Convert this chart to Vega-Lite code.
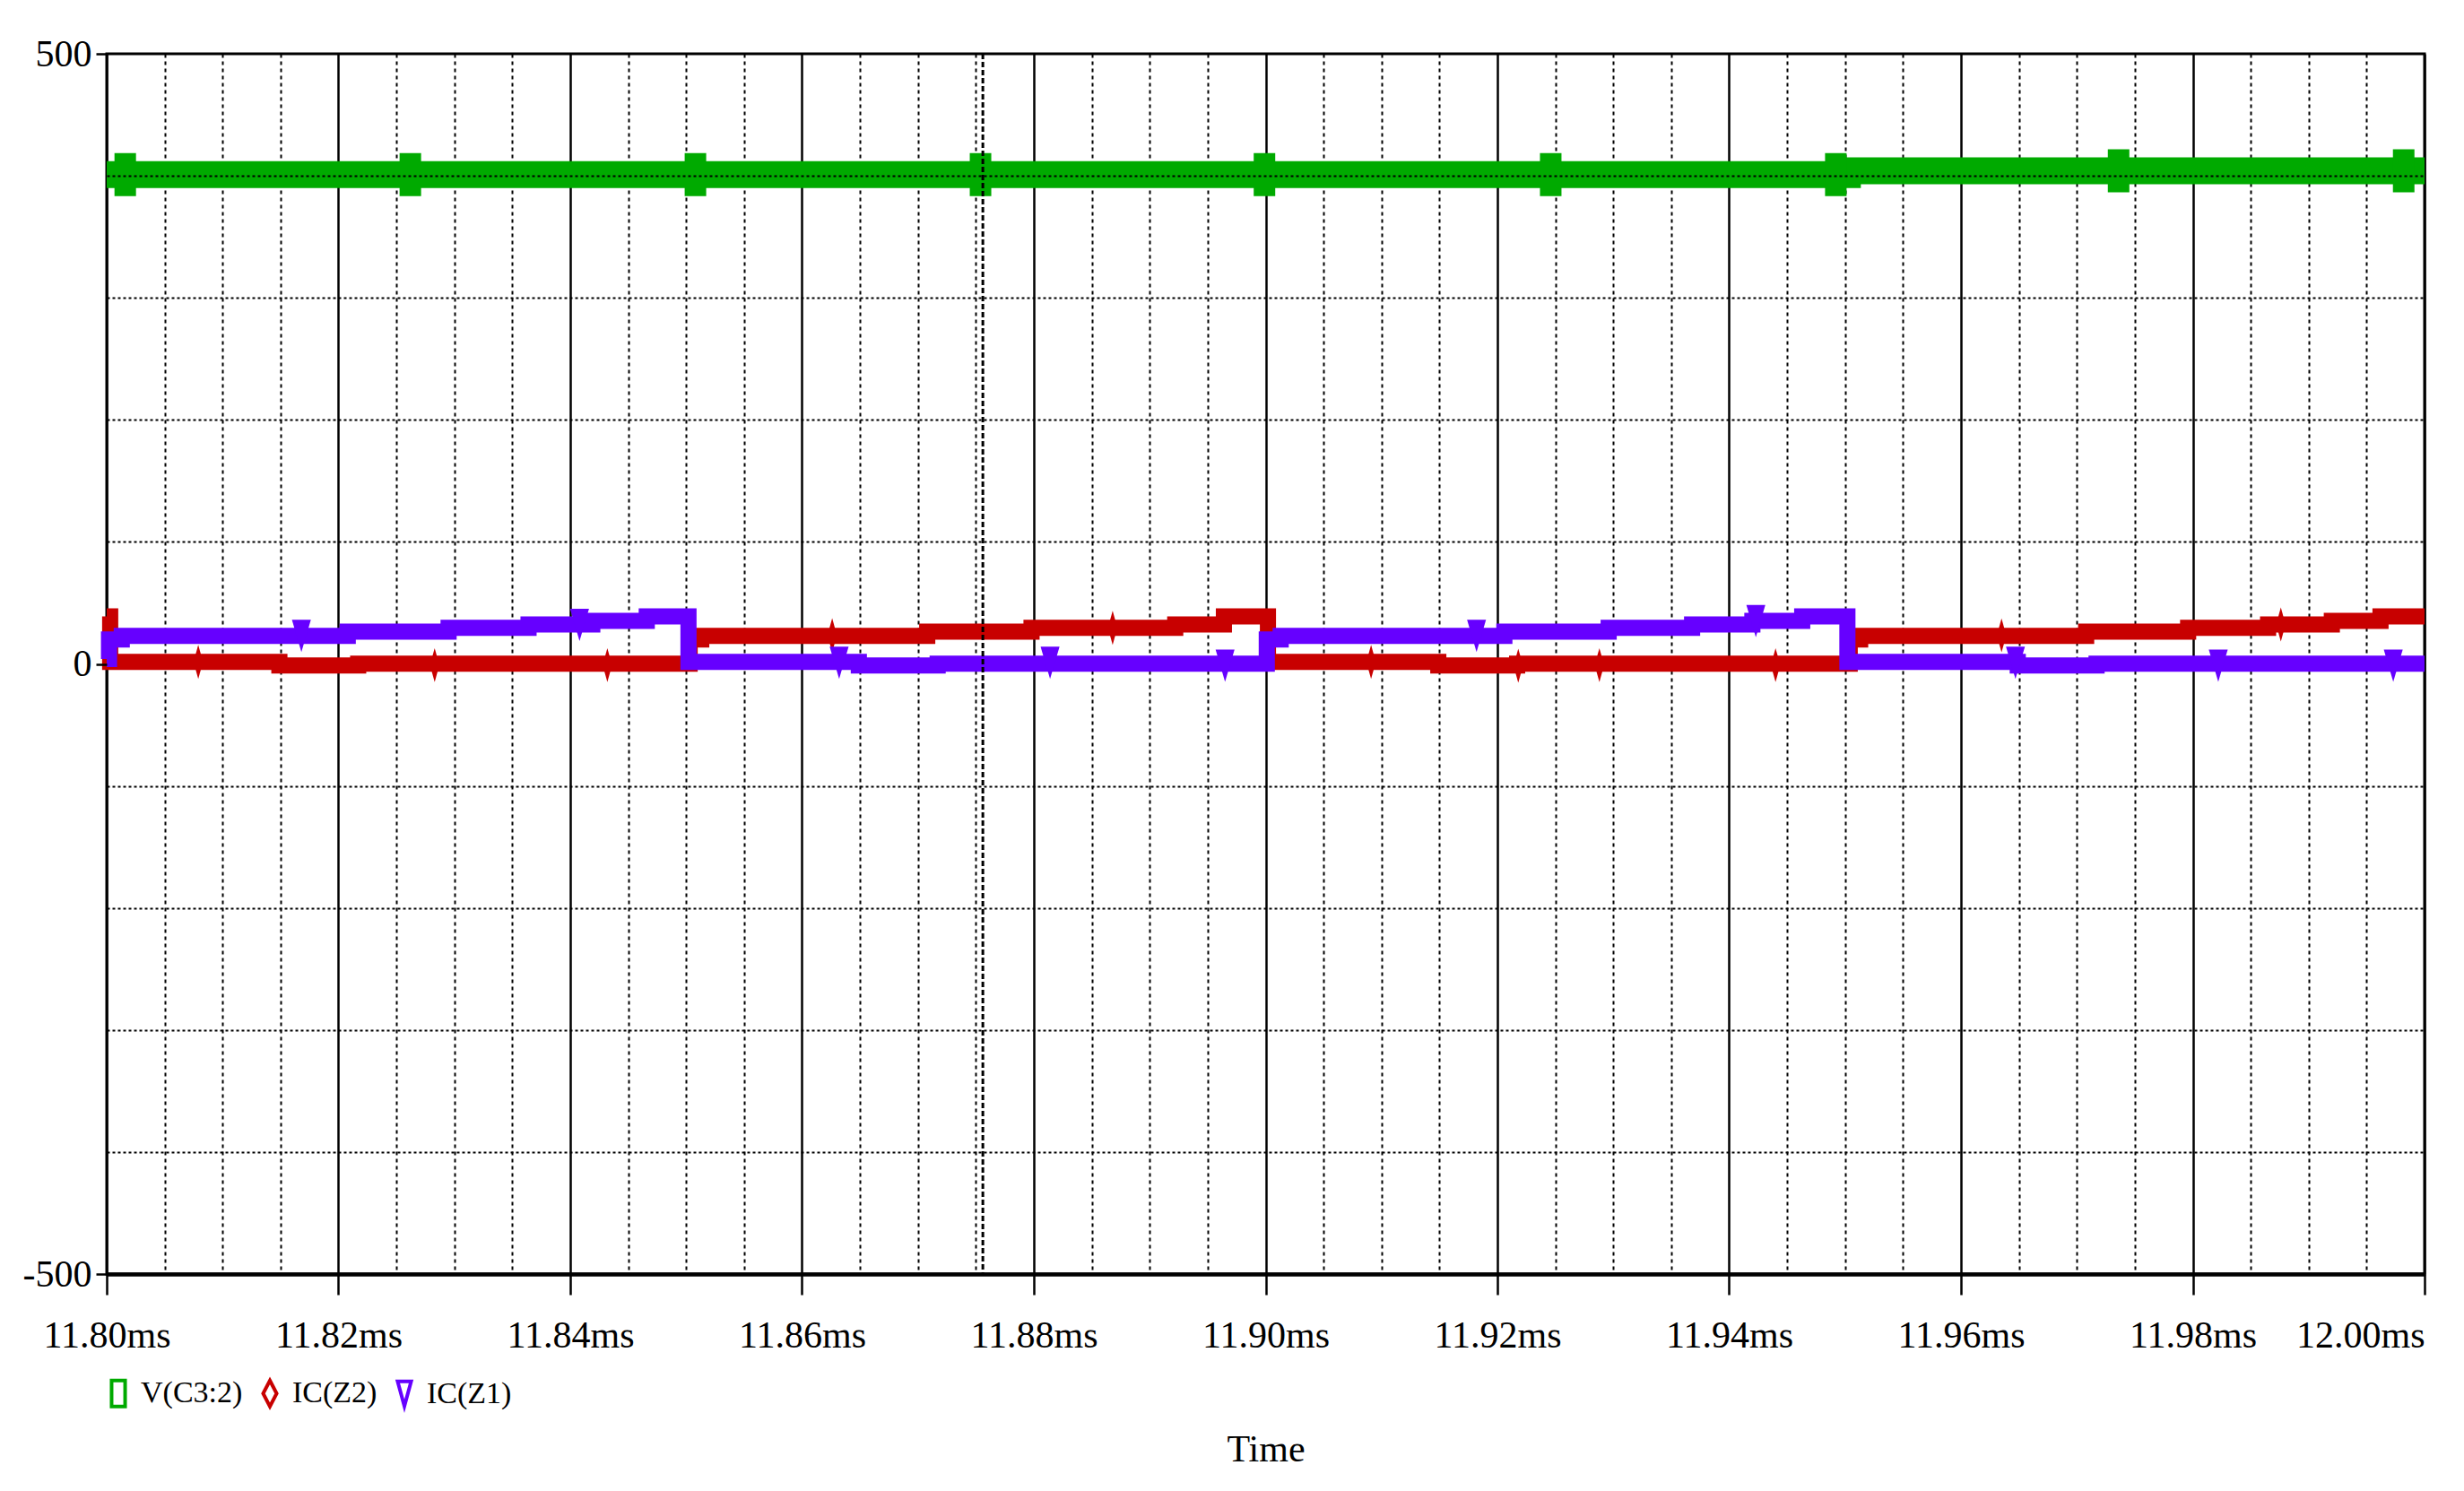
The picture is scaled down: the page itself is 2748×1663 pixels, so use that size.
{
  "$schema": "https://vega.github.io/schema/vega-lite/v6.json",
  "width": 2585,
  "height": 1361,
  "autosize": "none",
  "padding": {"left": 119, "top": 60, "right": 44, "bottom": 242},
  "background": "white",
  "config": {"view": {"stroke": "black", "strokeWidth": 3}, "font": "Liberation Serif"},
  "datasets": {
    "traces": [
      {"series": "V(C3:2)", "t": 11.8, "v": 401},
      {"series": "V(C3:2)", "t": 11.9502, "v": 404.2},
      {"series": "V(C3:2)", "t": 12.0, "v": 404.2},
      {"series": "IC(Z2)", "t": 11.8, "v": 39},
      {"series": "IC(Z2)", "t": 11.8003, "v": 1.6},
      {"series": "IC(Z2)", "t": 11.8149, "v": -1.3},
      {"series": "IC(Z2)", "t": 11.8217, "v": 0.2},
      {"series": "IC(Z2)", "t": 11.8503, "v": 20},
      {"series": "IC(Z2)", "t": 11.8513, "v": 23},
      {"series": "IC(Z2)", "t": 11.8708, "v": 26.5},
      {"series": "IC(Z2)", "t": 11.8798, "v": 29.5},
      {"series": "IC(Z2)", "t": 11.8922, "v": 32.4},
      {"series": "IC(Z2)", "t": 11.8964, "v": 38.9},
      {"series": "IC(Z2)", "t": 11.9002, "v": 1.6},
      {"series": "IC(Z2)", "t": 11.9149, "v": -1.3},
      {"series": "IC(Z2)", "t": 11.9217, "v": 0.2},
      {"series": "IC(Z2)", "t": 11.9504, "v": 20},
      {"series": "IC(Z2)", "t": 11.9513, "v": 23},
      {"series": "IC(Z2)", "t": 11.9708, "v": 26.5},
      {"series": "IC(Z2)", "t": 11.9796, "v": 29.5},
      {"series": "IC(Z2)", "t": 11.9865, "v": 32.4},
      {"series": "IC(Z2)", "t": 11.992, "v": 35.3},
      {"series": "IC(Z2)", "t": 11.9962, "v": 38.9},
      {"series": "IC(Z2)", "t": 12.0, "v": 38.9},
      {"series": "IC(Z1)", "t": 11.8, "v": 4},
      {"series": "IC(Z1)", "t": 11.8002, "v": 20},
      {"series": "IC(Z1)", "t": 11.8013, "v": 23},
      {"series": "IC(Z1)", "t": 11.8208, "v": 26.4},
      {"series": "IC(Z1)", "t": 11.8295, "v": 29.5},
      {"series": "IC(Z1)", "t": 11.8364, "v": 32.4},
      {"series": "IC(Z1)", "t": 11.8419, "v": 35.3},
      {"series": "IC(Z1)", "t": 11.8466, "v": 38.9},
      {"series": "IC(Z1)", "t": 11.8502, "v": 1.6},
      {"series": "IC(Z1)", "t": 11.8649, "v": -1.3},
      {"series": "IC(Z1)", "t": 11.8717, "v": 0.2},
      {"series": "IC(Z1)", "t": 11.9001, "v": 20},
      {"series": "IC(Z1)", "t": 11.9013, "v": 23},
      {"series": "IC(Z1)", "t": 11.9206, "v": 26.5},
      {"series": "IC(Z1)", "t": 11.9296, "v": 29.5},
      {"series": "IC(Z1)", "t": 11.9368, "v": 32.4},
      {"series": "IC(Z1)", "t": 11.942, "v": 35.3},
      {"series": "IC(Z1)", "t": 11.9463, "v": 38.9},
      {"series": "IC(Z1)", "t": 11.9502, "v": 1.6},
      {"series": "IC(Z1)", "t": 11.9649, "v": -1.3},
      {"series": "IC(Z1)", "t": 11.9717, "v": 0.2},
      {"series": "IC(Z1)", "t": 12.0, "v": 0.2}
    ],
    "markers": [
      {"series": "V(C3:2)", "t": 11.8016, "v": 401},
      {"series": "V(C3:2)", "t": 11.8262, "v": 401},
      {"series": "V(C3:2)", "t": 11.8508, "v": 401},
      {"series": "V(C3:2)", "t": 11.8754, "v": 401},
      {"series": "V(C3:2)", "t": 11.8999, "v": 401},
      {"series": "V(C3:2)", "t": 11.9246, "v": 401},
      {"series": "V(C3:2)", "t": 11.9492, "v": 401},
      {"series": "V(C3:2)", "t": 11.9736, "v": 404.2},
      {"series": "V(C3:2)", "t": 11.9982, "v": 404.2},
      {"series": "IC(Z2)", "t": 11.8079, "v": 1.6},
      {"series": "IC(Z2)", "t": 11.8283, "v": -1},
      {"series": "IC(Z2)", "t": 11.8432, "v": -1},
      {"series": "IC(Z2)", "t": 11.8626, "v": 23.5},
      {"series": "IC(Z2)", "t": 11.8868, "v": 29.6},
      {"series": "IC(Z2)", "t": 11.9091, "v": 1.6},
      {"series": "IC(Z2)", "t": 11.9218, "v": -1.5},
      {"series": "IC(Z2)", "t": 11.9288, "v": -1},
      {"series": "IC(Z2)", "t": 11.944, "v": -1},
      {"series": "IC(Z2)", "t": 11.9635, "v": 23.4},
      {"series": "IC(Z2)", "t": 11.9876, "v": 32.3},
      {"series": "IC(Z1)", "t": 11.8168, "v": 23},
      {"series": "IC(Z1)", "t": 11.8408, "v": 32},
      {"series": "IC(Z1)", "t": 11.8632, "v": 1},
      {"series": "IC(Z1)", "t": 11.8814, "v": 1},
      {"series": "IC(Z1)", "t": 11.8965, "v": -1.5},
      {"series": "IC(Z1)", "t": 11.9182, "v": 23},
      {"series": "IC(Z1)", "t": 11.9423, "v": 35},
      {"series": "IC(Z1)", "t": 11.9647, "v": 1},
      {"series": "IC(Z1)", "t": 11.9822, "v": -1.5},
      {"series": "IC(Z1)", "t": 11.9973, "v": -1.5}
    ],
    "cursor": [{"t": 11.8756}]
  },
  "layer": [
    {
      "data": {"name": "traces"},
      "transform": [{"filter": "datum.series == 'V(C3:2)'"}],
      "mark": {"type": "line", "interpolate": "step-after", "color": "#00AA00", "strokeWidth": 30, "strokeJoin": "miter"},
      "encoding": {
        "x": {
          "field": "t", "type": "quantitative",
          "scale": {"domain": [11.8, 12.0], "nice": false, "zero": false},
          "axis": {
            "values": [11.8, 11.805, 11.81, 11.815, 11.82, 11.825, 11.83, 11.835, 11.84, 11.845, 11.85, 11.855, 11.86, 11.865, 11.87, 11.875, 11.88, 11.885, 11.89, 11.895, 11.9, 11.905, 11.91, 11.915, 11.92, 11.925, 11.93, 11.935, 11.94, 11.945, 11.95, 11.955, 11.96, 11.965, 11.97, 11.975, 11.98, 11.985, 11.99, 11.995, 12.0],
            "grid": true,
            "gridColor": "black",
            "gridWidth": {"condition": {"test": "abs(datum.value*50 - round(datum.value*50)) < 0.01", "value": 2.5}, "value": 2},
            "gridDash": {"condition": {"test": "abs(datum.value*50 - round(datum.value*50)) < 0.01", "value": []}, "value": [4, 4]},
            "gridOpacity": 1,
            "ticks": true,
            "tickSize": 23,
            "tickWidth": 2.5,
            "tickColor": "black",
            "tickOpacity": {"condition": {"test": "abs(datum.value*50 - round(datum.value*50)) < 0.01", "value": 1}, "value": 0},
            "labelExpr": "abs(datum.value*50 - round(datum.value*50)) < 0.01 ? format(datum.value, '.2f') + 'ms' : ''",
            "labelAlign": {"condition": {"test": "datum.value > 11.999", "value": "right"}, "value": "center"},
            "labelBaseline": "alphabetic",
            "labelPadding": 58,
            "labelFont": "Liberation Serif",
            "labelFontSize": 42,
            "labelColor": "black",
            "labelOverlap": false,
            "labelFlush": false,
            "domain": true,
            "domainColor": "black",
            "domainWidth": 4.5,
            "title": "Time",
            "titleFont": "Liberation Serif",
            "titleFontSize": 42,
            "titleFontWeight": "normal",
            "titleColor": "black",
            "titleBaseline": "alphabetic",
            "titleY": 208,
            "zindex": 0
          }
        },
        "y": {
          "field": "v", "type": "quantitative",
          "scale": {"domain": [-500, 500], "nice": false, "zero": false},
          "axis": {
            "values": [-500, -400, -300, -200, -100, 0, 100, 200, 300, 400, 500],
            "grid": true,
            "gridColor": "black",
            "gridWidth": 2,
            "gridDash": [3, 3],
            "gridOpacity": {"condition": {"test": "datum.value == 0 || abs(datum.value) == 500", "value": 0}, "value": 1},
            "tickSize": 12,
            "tickWidth": 2.5,
            "tickColor": "black",
            "tickOpacity": {"condition": {"test": "abs(datum.value) % 500 == 0", "value": 1}, "value": 0},
            "labelExpr": "abs(datum.value) % 500 == 0 ? '' + datum.value : ''",
            "labelPadding": 5,
            "labelFont": "Liberation Serif",
            "labelFontSize": 42,
            "labelColor": "black",
            "labelBaseline": "middle",
            "labelOverlap": false,
            "labelFlush": false,
            "domain": false,
            "title": null,
            "zindex": 1
          }
        }
      }
    },
    {
      "data": {"name": "traces"},
      "transform": [{"filter": "datum.series == 'IC(Z2)'"}],
      "mark": {"type": "line", "interpolate": "step-after", "color": "#C80000", "strokeWidth": 18, "strokeJoin": "miter"},
      "encoding": {
        "x": {"field": "t", "type": "quantitative"},
        "y": {"field": "v", "type": "quantitative"}
      }
    },
    {
      "data": {"name": "traces"},
      "transform": [{"filter": "datum.series == 'IC(Z1)'"}],
      "mark": {"type": "line", "interpolate": "step-after", "color": "#6600FF", "strokeWidth": 18, "strokeJoin": "miter"},
      "encoding": {
        "x": {"field": "t", "type": "quantitative"},
        "y": {"field": "v", "type": "quantitative"}
      }
    },
    {
      "data": {"name": "markers"},
      "transform": [{"filter": "datum.series == 'V(C3:2)'"}],
      "mark": {"type": "point", "filled": true, "opacity": 1, "size": 2304, "strokeWidth": 0, "color": "#00AA00", "shape": "M-0.5,-1H0.5V1H-0.5Z"},
      "encoding": {
        "x": {"field": "t", "type": "quantitative"},
        "y": {"field": "v", "type": "quantitative"}
      }
    },
    {
      "data": {"name": "markers"},
      "transform": [{"filter": "datum.series == 'IC(Z2)'"}],
      "mark": {"type": "point", "filled": true, "opacity": 1, "size": 2304, "strokeWidth": 0, "color": "#C80000", "shape": "M0,-0.79L0.22,0L0,0.79L-0.22,0Z"},
      "encoding": {
        "x": {"field": "t", "type": "quantitative"},
        "y": {"field": "v", "type": "quantitative"}
      }
    },
    {
      "data": {"name": "markers"},
      "transform": [{"filter": "datum.series == 'IC(Z1)'"}],
      "mark": {"type": "point", "filled": true, "opacity": 1, "size": 2304, "strokeWidth": 0, "color": "#6600FF", "shape": "M-0.44,-0.75L0.44,-0.75L0,0.75Z"},
      "encoding": {
        "x": {"field": "t", "type": "quantitative"},
        "y": {"field": "v", "type": "quantitative"}
      }
    },
    {
      "data": {"name": "markers"},
      "transform": [{"filter": "false"}],
      "mark": {"type": "point", "filled": false, "opacity": 1, "size": 841, "strokeWidth": 4},
      "encoding": {
        "x": {"field": "t", "type": "quantitative"},
        "y": {"field": "v", "type": "quantitative"},
        "color": {
          "field": "series", "type": "nominal",
          "scale": {"domain": ["V(C3:2)", "IC(Z2)", "IC(Z1)"], "range": ["#00AA00", "#C80000", "#6600FF"]},
          "legend": {
            "orient": "none",
            "legendX": -4,
            "legendY": 1477,
            "direction": "horizontal",
            "title": null,
            "padding": 0,
            "symbolSize": 841,
            "symbolStrokeWidth": 4,
            "symbolFillColor": "transparent",
            "labelFont": "Liberation Serif",
            "labelFontSize": 34,
            "labelColor": "black",
            "labelOffset": 8,
            "columnPadding": 13
          }
        },
        "shape": {
          "field": "series", "type": "nominal",
          "scale": {"domain": ["V(C3:2)", "IC(Z2)", "IC(Z1)"], "range": ["M-0.52,-1H0.52V1H-0.52Z", "M0,-1L0.52,0L0,1L-0.52,0Z", "M-0.52,-0.95H0.52L0,0.95Z"]},
          "legend": {
            "orient": "none",
            "legendX": -4,
            "legendY": 1477,
            "direction": "horizontal",
            "title": null,
            "padding": 0,
            "symbolSize": 841,
            "symbolStrokeWidth": 4,
            "symbolFillColor": "transparent",
            "labelFont": "Liberation Serif",
            "labelFontSize": 34,
            "labelColor": "black",
            "labelOffset": 8,
            "columnPadding": 13
          }
        }
      }
    },
    {
      "data": {"name": "cursor"},
      "mark": {"type": "rule", "color": "black", "strokeWidth": 3, "strokeDash": [6, 3]},
      "encoding": {
        "x": {"field": "t", "type": "quantitative"}
      }
    }
  ]
}
